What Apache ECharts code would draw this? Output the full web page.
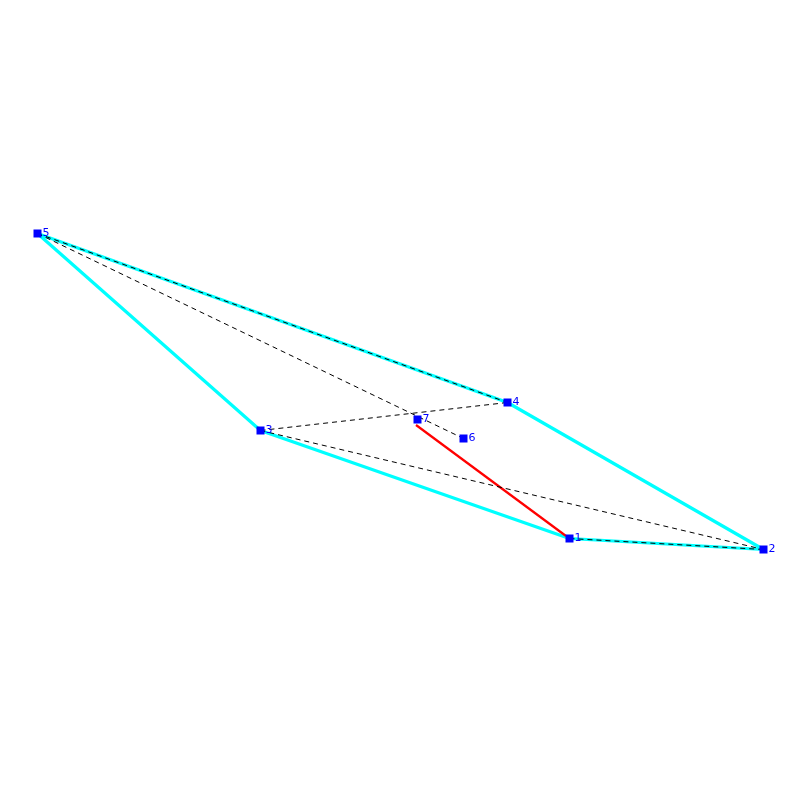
<!DOCTYPE html>
<html><head><meta charset="utf-8">
<style>html,body{margin:0;padding:0;background:#fff}#c{width:800px;height:800px}</style>
<script src="https://cdn.jsdelivr.net/npm/echarts@6/dist/echarts.min.js"></script>
</head><body><div id="c"></div>
<script>
const nodeNames = ['1','2','3','4','5','6','7'];
const nodeX = [569.5,763.5,260.5,507.5,37.5,463.5,417.5];
const nodeY = [538.5,549.5,430.5,402.5,233.5,438.5,419.5];
const hullEdges = [[5,4],[4,2],[2,1],[1,3],[3,5]];
const dashedEdges = [[5,4],[5,6],[3,4],[3,2],[1,2]];
const redSegmentX = [566,416];
const redSegmentY = [536,425];
const pt = n => [nodeX[n-1], nodeY[n-1]];
const path = edges => edges.flatMap(e => [pt(e[0]), pt(e[1]), [null,null]]);
const edgeSeries = (data,color,width,type,z) => ({
  type:'line', data, symbol:'none', silent:true, z, animation:false,
  connectNulls:false, lineStyle:{color,width,type}
});
const chart = echarts.init(document.getElementById('c'),null,{renderer:'canvas'});
chart.setOption({
  animation:false, backgroundColor:'#ffffff',
  grid:{left:0,right:0,top:0,bottom:0},
  xAxis:{type:'value',min:0,max:800,show:false},
  yAxis:{type:'value',min:0,max:800,inverse:true,show:false},
  series:[
    edgeSeries(path(hullEdges),'#00ffff',3.2,'solid',1),
    edgeSeries(redSegmentX.map((x,i)=>[x,redSegmentY[i]]),'#ff0000',2.2,'solid',2),
    edgeSeries(path(dashedEdges),'#000000',1,[5,4],3),
    {type:'scatter',z:4,symbol:'rect',symbolSize:8,silent:true,
     itemStyle:{color:'#0000ff',opacity:1},
     data:nodeNames.map((n,i)=>({name:n,value:[nodeX[i],nodeY[i]]})),
     label:{show:true,position:'right',distance:1,formatter:'{b}',color:'#0000ff',
            fontFamily:'DejaVu Sans',fontSize:11}}
  ]
});
</script></body></html>
